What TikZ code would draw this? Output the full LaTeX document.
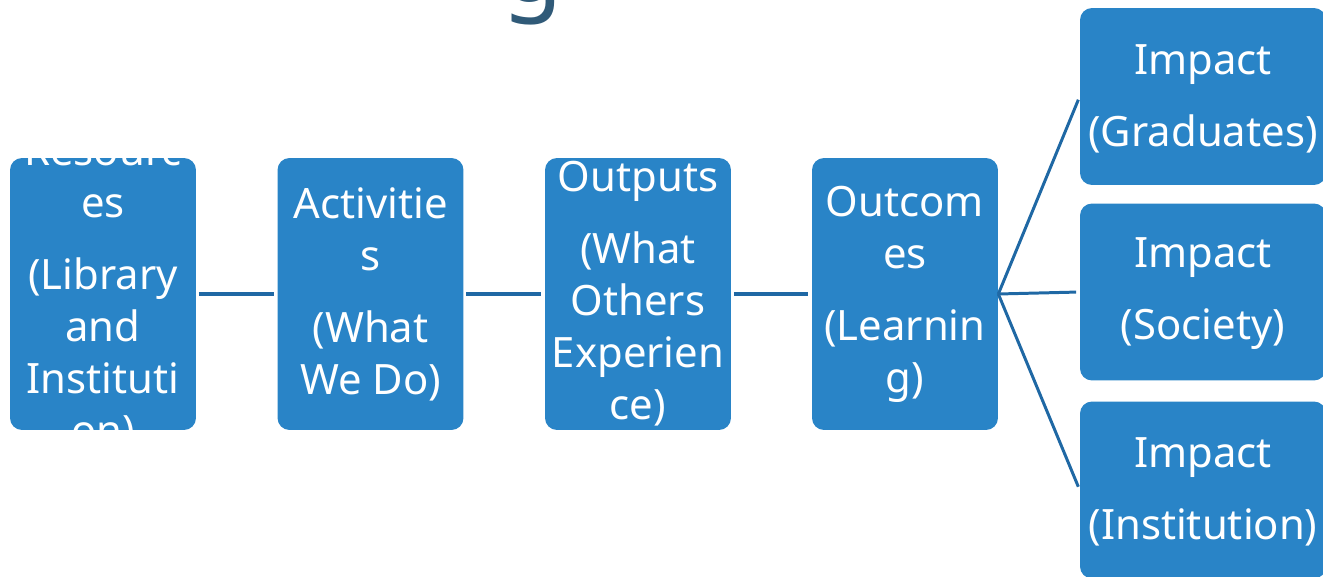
\documentclass[tikz,border=0pt]{standalone}
\usepackage{fontspec}
\setmainfont{Noto Sans}
\definecolor{stageblue}{RGB}{41,132,199}
\definecolor{linkblue}{RGB}{31,104,164}
\definecolor{titleslate}{RGB}{48,90,120}
\tikzset{
    stage/.style={fill=stageblue, rounded corners=0.24cm, minimum width=3.72cm,
                  minimum height=5.44cm, inner sep=0pt},
    impact/.style={stage, minimum width=4.92cm, minimum height=3.54cm},
    words/.style={text=white, align=center, inner sep=0pt,
                  font=\fontsize{23.8}{29.6}\selectfont},
    titleword/.style={text=titleslate, inner sep=0pt,
                      font=\fontsize{56}{60}\selectfont},
    link/.style={draw=linkblue, line width=2.2pt, shorten <=1.5pt, shorten >=2pt},
    fan/.style={link, line width=1.7pt, shorten <=0pt},
}
\newcommand{\pgap}{11.4pt}

\begin{document}
\begin{tikzpicture}[x=0.02cm, y=-0.02cm]
    \useasboundingbox (0,0) rectangle (1323,577);

    % heading, only its descender shows
    \node[titleword, anchor=base] (title) at (533,2) {g};

    % the chain
    \node[stage] (res) at (103,294) {};
    \node[stage] (act) at (370.5,294) {};
    \node[stage] (out) at (638,294) {};
    \node[stage] (oc) at (905,294) {};

    % the three impacts
    \node[impact] (grad) at (1203,96.5) {};
    \node[impact] (soc) at (1203,292) {};
    \node[impact] (inst) at (1203,490) {};

    \begin{scope}
        \clip[rounded corners=0.24cm] (res.south west) rectangle (res.north east);
        \node[words] (restext) at (res) {Resourc\\es\\[\pgap](Library\\and\\Instituti\\on)};
    \end{scope}
    \node[words] (acttext) at (act) {Activitie\\s\\[\pgap](What\\We Do)};
    \node[words] (outtext) at (out) {Outputs\\[\pgap](What\\Others\\Experien\\ce)};
    \node[words] (octext) at (oc) {Outcom\\es\\[\pgap](Learnin\\g)};
    \node[words] (gradtext) at (1203,98.5) {Impact\\[\pgap](Graduates)};
    \node[words] (soctext) at (1203,294) {Impact\\[\pgap](Society)};
    \node[words] (insttext) at (1203,492) {Impact\\[\pgap](Institution)};

    \draw[link] (res) -- (act);
    \draw[link] (act) -- (out);
    \draw[link] (out) -- (oc);
    \draw[fan] (oc.east) -- (grad.west);
    \draw[fan] (oc.east) -- (soc.west);
    \draw[fan] (oc.east) -- (inst.west);

\end{tikzpicture}
\end{document}
